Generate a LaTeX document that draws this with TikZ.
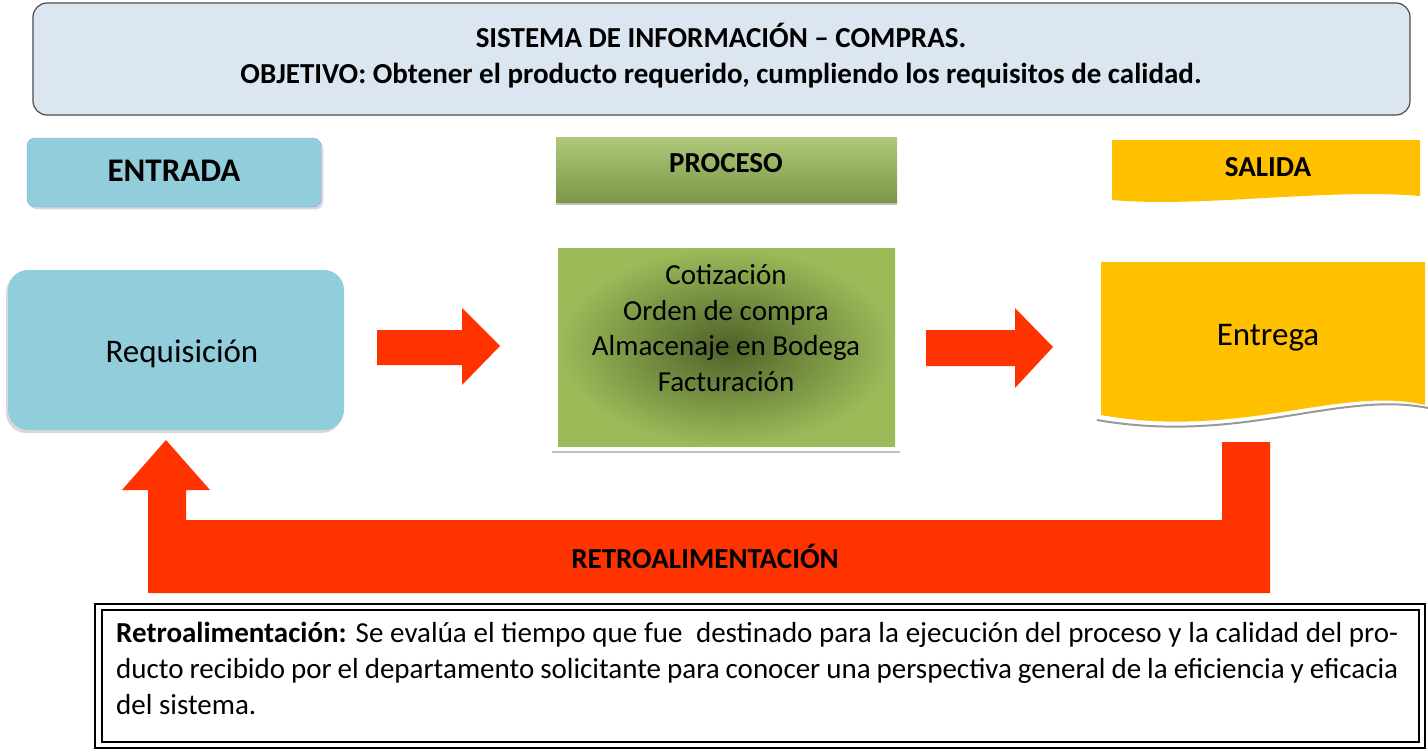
\documentclass[tikz,border=0pt]{standalone}
\usepackage{fontspec}
\setmainfont{Carlito}
\usetikzlibrary{shadows}
\definecolor{titlebg}{HTML}{DCE6F0}
\definecolor{lblue}{HTML}{92CDDC}
\definecolor{ggreen}{HTML}{9BBB59}
\definecolor{dgreen}{HTML}{4F6228}
\definecolor{yel}{HTML}{FFC000}
\definecolor{rred}{HTML}{FF3300}
\begin{document}
\begin{tikzpicture}[x=1pt,y=-1pt,
  lbl/.style={font=\fontsize{29}{33}\selectfont\bfseries},
  big/.style={font=\fontsize{33}{38}\selectfont},
  arr/.style={fill=rred,draw=none}]
\useasboundingbox (0,0) rectangle (1428,752);
% title
\draw[rounded corners=14,fill=titlebg,draw=black!70,line width=1.2] (33,3) rectangle (1410,115);
\node[lbl] (t1) at (721,35) {SISTEMA DE INFORMACIÓN – COMPRAS.};
\node[lbl] (t2) at (721,76) {OBJETIVO: Obtener el producto requerido, cumpliendo los requisitos de calidad.};
% headers
\draw[rounded corners=8,fill=lblue,draw=blue!40,drop shadow={opacity=0.3}] (27,138) rectangle (321,207);
\node[font=\fontsize{33}{38}\selectfont\bfseries] (ent) at (174,171) {ENTRADA};
\shade[top color=ggreen!80!white,bottom color=ggreen!80!black] (556,137) rectangle (897,203);
\draw[black!25,line width=2] (556,204) -- (897,204);
\node[lbl] (pro) at (726,163) {PROCESO};
\fill[yel] (1112,140) -- (1420,140) -- (1420,196) .. controls (1330,188) and (1200,208) .. (1112,200) -- cycle;
\node[lbl] (sal) at (1268,167) {SALIDA};
% input
\draw[rounded corners=20,fill=lblue,draw=none,drop shadow={opacity=0.3,shadow xshift=-2pt,shadow yshift=-3pt}] (8,270) rectangle (344,430);
\node[big] (req) at (182,354) {Requisición};
% arrow 1
\fill[arr] (377,330) -- (462,330) -- (462,308) -- (500,346) -- (462,385) -- (462,365) -- (377,365) -- cycle;
% process
\shade[inner color=dgreen,outer color=ggreen] (558,248) rectangle (895,446);
\draw[black!25,line width=2] (552,452) -- (900,452);
\node[font=\fontsize{29}{35.5}\selectfont,align=center] (proc) at (726,328)
 {Cotización\\Orden de compra\\Almacenaje en Bodega\\Facturación};
% arrow 2
\fill[arr] (926,330) -- (1015,330) -- (1015,308) -- (1053,347) -- (1015,388) -- (1015,366) -- (926,366) -- cycle;
% output document
\fill[yel] (1101,262) -- (1425,262) -- (1425,405) .. controls (1340,385) and (1240,440) .. (1101,415) -- cycle;
\draw[black!40,line width=2] (1097,420) .. controls (1240,445) and (1340,390) .. (1428,408);
\node[big] (outp) at (1268,338) {Entrega};
% feedback
\fill[arr] (1222,442) -- (1270,442) -- (1270,593) -- (148,593) -- (148,490) -- (122,490) -- (166,440) -- (210,490) -- (186,490) -- (186,520) -- (1222,520) -- cycle;
\node[lbl] (ret) at (705,556) {RETROALIMENTACIÓN};
% bottom box
\draw[line width=1.2] (95,604) rectangle (1425,748);
\draw[line width=1.2] (102,610) rectangle (1419,742);
\node[anchor=north west,text width=1282,align=justify,font=\fontsize{29}{36}\selectfont,inner sep=0] (txt) at (116,622)
 {\textbf{Retroalimentación:} Se evalúa el tiempo que fue\ \ destinado para la ejecución del proceso y la calidad del producto recibido por el departamento solicitante para conocer una perspectiva general de la eficiencia y eficacia del sistema.};
\end{tikzpicture}
\end{document}
